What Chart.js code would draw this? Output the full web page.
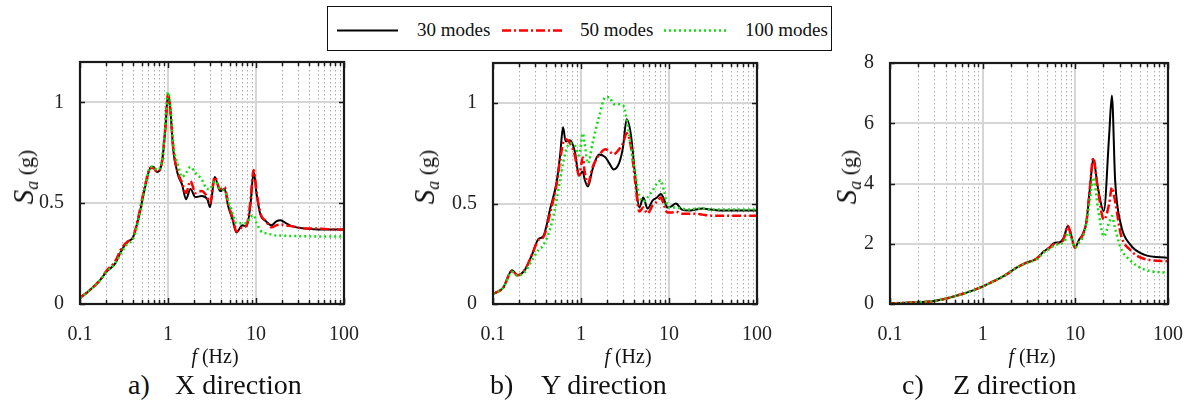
<!DOCTYPE html>
<html>
<head>
<meta charset="utf-8">
<script src="https://cdn.jsdelivr.net/npm/chart.js@4.4.0/dist/chart.umd.min.js"></script>
<style>
  body { margin: 0; width: 1194px; height: 403px; background: #fff; position: relative; overflow: hidden;
         font-family: "Liberation Serif", "Times New Roman", serif; color: #111; }
  canvas { position: absolute; }
  .ylab { position: absolute; transform: translate(-50%, -50%) rotate(-90deg); white-space: nowrap;
          font-size: 22px; line-height: 1; }
  .ylab .s { font-style: italic; font-size: 29px; }
  .ylab sub { font-style: italic; font-size: 18px; vertical-align: -5px; }
  .xlab { position: absolute; top: 346px; transform: translateX(-50%); font-size: 20px; line-height: 1; white-space: nowrap; }
  .cap { position: absolute; top: 371px; font-size: 28px; line-height: 1; white-space: nowrap; }
  #legend { position: absolute; left: 327px; top: 6px; width: 505px; height: 45px; box-sizing: border-box;
            border: 1.5px solid #111; background: #fff; }
  #legend svg { position: absolute; top: 0; left: 0; }
  #legend span { position: absolute; top: 13px; font-size: 19px; line-height: 1; white-space: nowrap; }
</style>
</head>
<body>

<div id="legend">
  <svg width="505" height="45">
    <line x1="9" y1="23.5" x2="70" y2="23.5" stroke="#000" stroke-width="2"/>
    <line x1="174" y1="23.5" x2="235" y2="23.5" stroke="#ff0000" stroke-width="2.5" stroke-dasharray="9 3 2 3"/>
    <line x1="336" y1="23.5" x2="398" y2="23.5" stroke="#11dd11" stroke-width="2.5" stroke-dasharray="2 3"/>
  </svg>
  <span style="left:89px">30 modes</span>
  <span style="left:252px">50 modes</span>
  <span style="left:417px">100 modes</span>
</div>

<canvas id="chartX" width="370" height="310" style="left:0px;top:40px"></canvas>
<canvas id="chartY" width="370" height="310" style="left:413px;top:40px"></canvas>
<canvas id="chartZ" width="384" height="310" style="left:810px;top:40px"></canvas>

<div class="ylab" style="left:25px;top:177px"><span class="s">S</span><sub>a</sub> (g)</div>
<div class="ylab" style="left:426px;top:177px"><span class="s">S</span><sub>a</sub> (g)</div>
<div class="ylab" style="left:848px;top:177px"><span class="s">S</span><sub>a</sub> (g)</div>

<div class="xlab" style="left:215px"><i>f</i> (Hz)</div>
<div class="xlab" style="left:628px"><i>f</i> (Hz)</div>
<div class="xlab" style="left:1032px"><i>f</i> (Hz)</div>

<div class="cap" style="left:128px">a)</div><div class="cap" style="left:175px">X direction</div>
<div class="cap" style="left:490px">b)</div><div class="cap" style="left:541px">Y direction</div>
<div class="cap" style="left:902px">c)</div><div class="cap" style="left:953px">Z direction</div>

<script>
// ---- data ----
const seriesNames = ["30 modes", "50 modes", "100 modes"];

const xTicks = [0.1, 0.2, 0.3, 0.4, 0.5, 0.6, 0.7, 0.8, 0.9,
                1, 2, 3, 4, 5, 6, 7, 8, 9,
                10, 20, 30, 40, 50, 60, 70, 80, 90, 100];
const xTickLabels = [0.1, 1, 10, 100];
const yTicksXY = [0, 0.5, 1];
const yTicksZ = [0, 2, 4, 6, 8];

// X direction
const freqX = [0.1, 0.13, 0.17, 0.2, 0.25, 0.3, 0.35, 0.4, 0.47, 0.55,
               0.63, 0.68, 0.75, 0.85, 0.93, 1.0, 1.06, 1.15, 1.3, 1.45,
               1.6, 1.8, 2.05, 2.4, 2.8, 3.0, 3.4, 3.9, 4.4, 4.8,
               5.4, 6.0, 7.0, 7.8, 8.6, 9.4, 10.2, 11.2, 13, 15,
               17, 19, 22, 26, 35, 50, 70, 100];
const x30 = [0.03, 0.07, 0.12, 0.16, 0.2, 0.27, 0.31, 0.33, 0.44, 0.58,
             0.675, 0.68, 0.655, 0.70, 0.86, 1.04, 0.97, 0.76, 0.64, 0.59,
             0.52, 0.57, 0.53, 0.535, 0.52, 0.48, 0.63, 0.56, 0.57, 0.49,
             0.42, 0.355, 0.39, 0.385, 0.48, 0.655, 0.54, 0.445, 0.41, 0.39,
             0.41, 0.415, 0.40, 0.385, 0.375, 0.37, 0.37, 0.37];
const x50 = [0.03, 0.07, 0.12, 0.165, 0.21, 0.28, 0.31, 0.33, 0.45, 0.59,
             0.675, 0.675, 0.655, 0.70, 0.87, 1.04, 0.97, 0.77, 0.65, 0.60,
             0.55, 0.61, 0.55, 0.56, 0.53, 0.50, 0.63, 0.57, 0.58, 0.50,
             0.43, 0.36, 0.38, 0.39, 0.50, 0.665, 0.55, 0.45, 0.41, 0.38,
             0.39, 0.395, 0.39, 0.385, 0.375, 0.375, 0.37, 0.37];
const x100 = [0.03, 0.07, 0.12, 0.16, 0.2, 0.26, 0.30, 0.32, 0.43, 0.58,
              0.68, 0.68, 0.665, 0.71, 0.88, 1.05, 0.99, 0.79, 0.69, 0.63,
              0.65, 0.68, 0.65, 0.62, 0.57, 0.57, 0.61, 0.57, 0.56, 0.52,
              0.45, 0.40, 0.40, 0.40, 0.43, 0.44, 0.40, 0.365, 0.35, 0.345,
              0.34, 0.34, 0.338, 0.337, 0.336, 0.335, 0.335, 0.335];

// Y direction
const freqY = [0.1, 0.13, 0.165, 0.19, 0.23, 0.28, 0.33, 0.37, 0.45, 0.53,
               0.58, 0.625, 0.67, 0.75, 0.85, 0.95, 1.05, 1.1, 1.2, 1.35,
               1.6, 1.9, 2.1, 2.35, 2.7, 3.0, 3.3, 3.7, 4.1, 4.6,
               5.1, 5.7, 6.5, 7.3, 8.1, 8.8, 9.6, 10.5, 12, 14,
               17, 20, 24, 30, 40, 60, 100];
const y30 = [0.05, 0.08, 0.168, 0.143, 0.17, 0.25, 0.325, 0.335, 0.48, 0.61,
             0.745, 0.88, 0.81, 0.815, 0.76, 0.64, 0.66, 0.62, 0.585, 0.67,
             0.745, 0.73, 0.70, 0.67, 0.70, 0.78, 0.92, 0.84, 0.65, 0.48,
             0.53, 0.475, 0.515, 0.53, 0.548, 0.52, 0.48, 0.485, 0.50, 0.47,
             0.465, 0.47, 0.475, 0.47, 0.465, 0.465, 0.465];
const y50 = [0.05, 0.08, 0.165, 0.143, 0.17, 0.25, 0.32, 0.33, 0.46, 0.60,
             0.72, 0.80, 0.82, 0.80, 0.74, 0.64, 0.73, 0.66, 0.60, 0.68,
             0.74, 0.77, 0.76, 0.745, 0.77, 0.80, 0.85, 0.78, 0.62, 0.46,
             0.48, 0.45, 0.49, 0.51, 0.53, 0.49, 0.455, 0.455, 0.46, 0.45,
             0.45, 0.45, 0.445, 0.44, 0.44, 0.44, 0.44];
const y100 = [0.05, 0.08, 0.16, 0.14, 0.16, 0.22, 0.27, 0.29, 0.38, 0.52,
              0.62, 0.70, 0.76, 0.80, 0.79, 0.74, 0.85, 0.80, 0.70, 0.80,
              0.93, 1.03, 1.03, 0.995, 0.995, 0.99, 0.92, 0.78, 0.66, 0.54,
              0.51, 0.53, 0.565, 0.60, 0.615, 0.56, 0.49, 0.48, 0.48, 0.475,
              0.47, 0.475, 0.475, 0.47, 0.47, 0.47, 0.47];

// Z direction
const freqZ = [0.1, 0.15, 0.2, 0.3, 0.45, 0.6, 0.8, 1.0, 1.3, 1.7,
               2.3, 3.0, 3.8, 4.6, 5.2, 6.0, 6.8, 7.5, 8.3, 9.0,
               9.9, 11.0, 12.0, 13.2, 14.4, 15.6, 17.5, 20.3, 23.1, 24.8,
               26.9, 31, 39, 55, 100];
const z30 = [0.02, 0.04, 0.06, 0.1, 0.22, 0.33, 0.46, 0.58, 0.75, 0.93,
             1.2, 1.38, 1.5, 1.75, 1.87, 2.03, 2.05, 2.2, 2.59, 2.3,
             1.87, 2.14, 2.3, 2.75, 3.87, 4.81, 3.87, 3.09, 5.53, 6.92,
             4.09, 2.64, 1.98, 1.64, 1.53];
const z50 = [0.02, 0.04, 0.06, 0.1, 0.22, 0.33, 0.46, 0.58, 0.75, 0.93,
             1.2, 1.38, 1.5, 1.75, 1.85, 2.0, 2.03, 2.15, 2.6, 2.25,
             1.87, 2.1, 2.3, 2.75, 3.9, 4.85, 3.8, 2.8, 3.3, 3.87,
             3.4, 2.3, 1.8, 1.5, 1.42];
const z100 = [0.02, 0.04, 0.06, 0.1, 0.22, 0.33, 0.46, 0.58, 0.75, 0.93,
              1.2, 1.36, 1.48, 1.72, 1.82, 1.95, 2.0, 2.05, 2.35, 2.2,
              1.87, 2.05, 2.2, 2.7, 3.5, 4.2, 3.2, 2.25, 2.7, 2.92,
              2.5, 1.85, 1.45, 1.15, 1.03];

// ---- drawing ----
const FONT = "'Liberation Serif', 'Times New Roman', serif";

function isDecade(v) {
  const l = Math.log10(v);
  return Math.abs(l - Math.round(l)) < 1e-9;
}

// matlab-like box: grid under the curves, frame and inward ticks above
const framePlugin = {
  id: "frame",
  beforeDatasetsDraw(chart) {
    const { ctx, chartArea: a, scales: { x, y } } = chart;
    ctx.save();
    ctx.lineWidth = 1;
    ctx.strokeStyle = "#ababab";
    ctx.setLineDash([1.5, 2.5]);
    x.ticks.forEach((t) => {
      if (isDecade(t.value)) return;
      const px = Math.round(x.getPixelForValue(t.value)) + 0.5;
      ctx.beginPath(); ctx.moveTo(px, a.top); ctx.lineTo(px, a.bottom); ctx.stroke();
    });
    ctx.setLineDash([]);
    ctx.lineWidth = 2;
    ctx.strokeStyle = "#d6d6d6";
    x.ticks.forEach((t) => {
      if (!isDecade(t.value)) return;
      const px = Math.round(x.getPixelForValue(t.value));
      ctx.beginPath(); ctx.moveTo(px, a.top); ctx.lineTo(px, a.bottom); ctx.stroke();
    });
    y.ticks.forEach((t) => {
      const py = Math.round(y.getPixelForValue(t.value));
      ctx.beginPath(); ctx.moveTo(a.left, py); ctx.lineTo(a.right, py); ctx.stroke();
    });
    ctx.restore();
  },
  afterDatasetsDraw(chart) {
    const { ctx, chartArea: a, scales: { x, y } } = chart;
    ctx.save();
    ctx.strokeStyle = "#1a1a1a";
    ctx.lineWidth = 1.5;
    x.ticks.forEach((t) => {
      const px = Math.round(x.getPixelForValue(t.value)) + 0.5;
      const len = isDecade(t.value) ? 6 : 4;
      ctx.beginPath();
      ctx.moveTo(px, a.bottom); ctx.lineTo(px, a.bottom - len);
      ctx.moveTo(px, a.top); ctx.lineTo(px, a.top + len);
      ctx.stroke();
    });
    y.ticks.forEach((t) => {
      const py = Math.round(y.getPixelForValue(t.value)) + 0.5;
      ctx.beginPath();
      ctx.moveTo(a.left, py); ctx.lineTo(a.left + 5, py);
      ctx.moveTo(a.right, py); ctx.lineTo(a.right - 5, py);
      ctx.stroke();
    });
    ctx.lineWidth = 2.2;
    ctx.strokeRect(a.left, a.top, a.right - a.left, a.bottom - a.top);
    ctx.restore();
  },
};

function makeChart(id, freq, s30, s50, s100, yMax, yTicks, padTop, padRight) {
  const pts = (vals) => freq.map((f, i) => ({ x: f, y: vals[i] }));
  const common = { pointRadius: 0, fill: false, cubicInterpolationMode: "monotone" };
  return new Chart(document.getElementById(id), {
    type: "line",
    data: {
      datasets: [
        { ...common, label: seriesNames[0], data: pts(s30), borderColor: "#000000", borderWidth: 2, order: 3 },
        { ...common, label: seriesNames[1], data: pts(s50), borderColor: "#ff0000", borderWidth: 2.5,
          borderDash: [9, 3, 2, 3], order: 2 },
        { ...common, label: seriesNames[2], data: pts(s100), borderColor: "#11dd11", borderWidth: 2.5,
          borderDash: [2, 3], order: 1 },
      ],
    },
    options: {
      responsive: false,
      animation: false,
      layout: { padding: { top: padTop, right: padRight, left: 0, bottom: 0 } },
      plugins: { legend: { display: false }, tooltip: { enabled: false } },
      scales: {
        x: {
          type: "logarithmic",
          min: 0.1,
          max: 100,
          afterBuildTicks: (s) => { s.ticks = xTicks.map((v) => ({ value: v })); },
          afterFit: (s) => { s.height = 46; },
          grid: { display: false },
          border: { display: false },
          ticks: {
            autoSkip: false, maxRotation: 0, padding: 11, color: "#222",
            font: { family: FONT, size: 20 },
            callback: (v) => (xTickLabels.includes(v) ? String(v) : ""),
          },
        },
        y: {
          min: 0,
          max: yMax,
          afterBuildTicks: (s) => { s.ticks = yTicks.map((v) => ({ value: v })); },
          afterFit: (s) => { s.width = 80; },
          grid: { display: false },
          border: { display: false },
          ticks: { padding: 8, color: "#222", font: { family: FONT, size: 20 },
                   callback: (v) => String(v) },
        },
      },
    },
    plugins: [framePlugin],
  });
}

makeChart("chartX", freqX, x30, x50, x100, 1.2, yTicksXY, 22, 20);
makeChart("chartY", freqY, y30, y50, y100, 1.2, yTicksXY, 23, 20);
makeChart("chartZ", freqZ, z30, z50, z100, 8, yTicksZ, 23, 19);
</script>
</body>
</html>
